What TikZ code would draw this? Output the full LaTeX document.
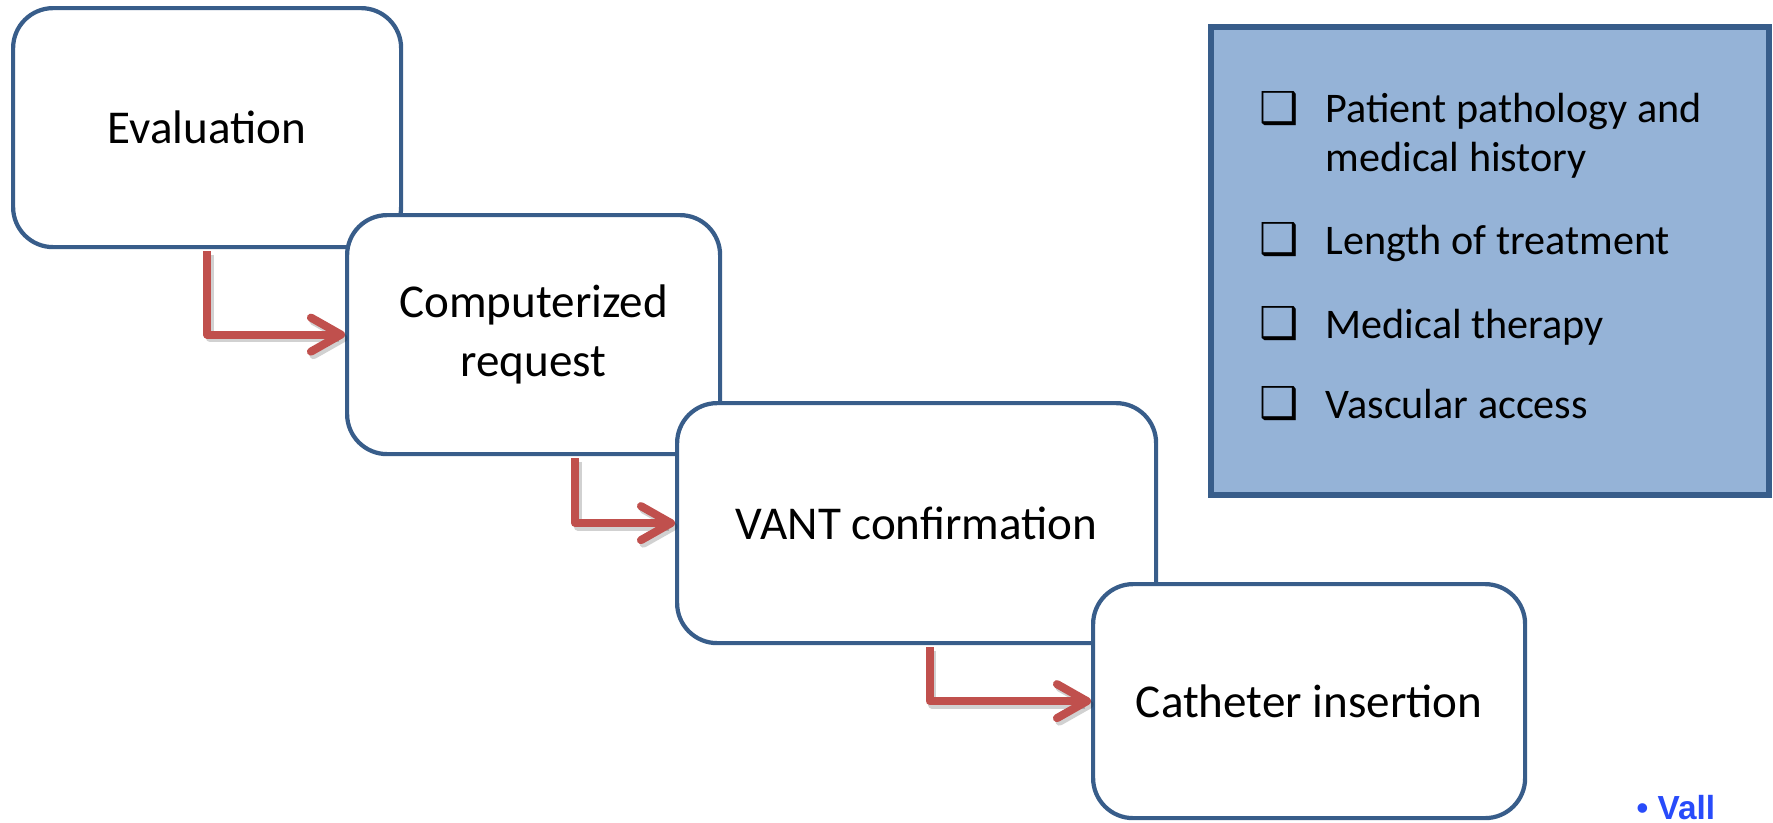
\documentclass[tikz,border=0pt]{standalone}
\usepackage{fontspec}
\setmainfont{Carlito}
\newfontfamily\symfont{DejaVu Sans}
\newfontfamily\logofont{Liberation Sans}
\usetikzlibrary{arrows.meta,positioning,shadows}

\definecolor{boxline}{RGB}{56,93,138}
\definecolor{listfill}{RGB}{149,179,215}
\definecolor{flowred}{RGB}{192,80,77}
\definecolor{logoblue}{RGB}{40,75,250}

\tikzset{
  stepbox/.style={rectangle,rounded corners=.4cm,draw=boxline,line width=1.2pt,fill=white,
    below right,inner sep=0pt,align=center,font=\fontsize{13.4}{16.7}\selectfont},
  listbox/.style={rectangle,draw=boxline,line width=1.6pt,fill=listfill,below right,inner sep=0pt,
    drop shadow={shadow xshift=.02cm,shadow yshift=-.03cm,opacity=.35}},
  itemtext/.style={inner sep=0pt,align=left,font=\fontsize{12}{13.7}\selectfont},
  checkbox/.style={inner sep=0pt,font=\symfont\fontsize{12.5}{14}\selectfont},
  flow/.style={draw=flowred,line width=2.3pt,line cap=butt,line join=round,shorten <=.6pt,
    -{Straight Barb[length=.3cm,width=.34cm,round]}},
  flowshadow/.style={flow,draw=black,opacity=.18,transform canvas={shift={(.025,-.035)}}},
  logotext/.style={inner sep=0pt,text=logoblue,font=\logofont\bfseries\fontsize{9.5}{11}\selectfont}
}

\begin{document}
\begin{tikzpicture}
  \useasboundingbox (0,0) rectangle (17.73,-8.22);

  % process steps
  \node[stepbox,minimum width=3.88cm,minimum height=2.39cm] (eval) at (.11,-.06) {Evaluation};
  \node[stepbox,minimum width=3.73cm,minimum height=2.39cm] (request) at (3.45,-2.13) {Computerized\\request};
  \node[stepbox,minimum width=4.79cm,minimum height=2.40cm] (confirm) at (6.75,-4.01) {VANT confirmation};
  \node[stepbox,minimum width=4.32cm,minimum height=2.34cm] (insert) at (10.91,-5.82) {Catheter insertion};

  % step -> step arrows
  \foreach \from/\to/\dx in {eval/request/0,request/confirm/.415,confirm/insert/.13} {
    \draw[flowshadow] ([xshift=\dx cm]\from.south) |- (\to.west);
    \draw[flow] ([xshift=\dx cm]\from.south) |- (\to.west);
  }

  % checklist (text placed at the baseline of its last line)
  \node[listbox,minimum width=5.58cm,minimum height=4.68cm] (criteria) at (12.08,-.24) {};
  \foreach \name/\ybox/\ytxt/\txt in {patho/1.23/1.71/{Patient pathology and\\medical history},
      length/2.54/2.54/{Length of treatment},therapy/3.38/3.38/{Medical therapy},
      access/4.18/4.18/{Vascular access}} {
    \node[itemtext,anchor=base west] (\name) at (13.25,-\ytxt) {\txt};
    \node[checkbox,anchor=base] (\name-box) at (12.79,-\ybox) {❑};
  }

  % logo at the page edge
  \node[logotext,anchor=base west] (logo) at (16.36,-8.19) {\textbullet\ Vall};
\end{tikzpicture}
\end{document}
